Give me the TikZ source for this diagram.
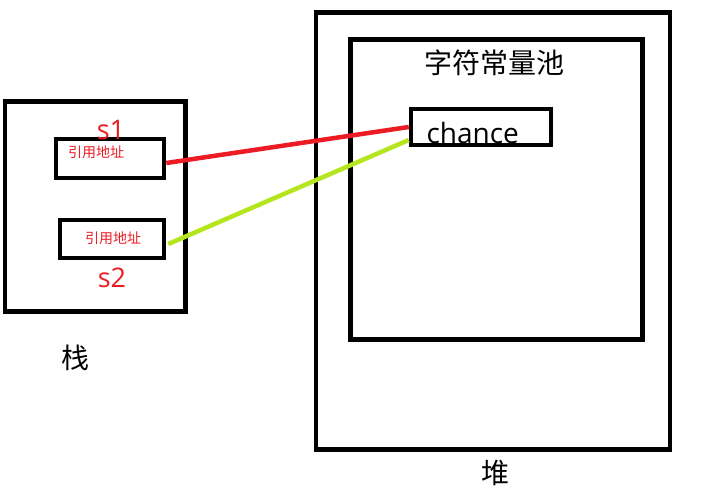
\documentclass[tikz,border=0pt]{standalone}
\usepackage{fontspec}
\setmainfont{Open Sans}
\newfontfamily\cjk{Noto Sans CJK SC}
\definecolor{paintred}{RGB}{237,28,36}
\definecolor{paintlime}{RGB}{181,230,29}
\begin{document}
\begin{tikzpicture}[x=1pt,y=-1pt]
\tikzstyle{box}=[draw, line width=4.5pt, inner sep=0pt]
\tikzstyle{ref}=[text=paintred, font=\cjk\fontsize{14}{16}\selectfont]
\tikzstyle{var}=[text=paintred, font=\fontsize{27}{30}\selectfont]
\tikzstyle{big}=[font=\cjk\fontsize{28}{32}\selectfont]
\useasboundingbox (0,0) rectangle (703,499);
\node[box, minimum width=180.5, minimum height=210] (stack) at (95.25,206.5) {};
\node[box, minimum width=108, minimum height=39] (s1box) at (110,158.5) {};
\node[box, minimum width=104, minimum height=38] (s2box) at (112,239) {};
\node[box, minimum width=354, minimum height=437] (heap) at (493,231) {};
\node[box, minimum width=292, minimum height=300] (pool) at (496.5,189.5) {};
\node[box, minimum width=140, minimum height=36] (chance) at (481,127) {};
\node[ref] (s1addr) at (96,152) {引用地址};
\node[ref] (s2addr) at (113,238) {引用地址};
\node[var] (s1) at (111,130) {s1};
\node[var] (s2) at (112,278) {s2};
\node[anchor=base west, font=\fontsize{28}{30}\selectfont] (str) at (423,143) {chance};
\node[big] (poolname) at (494,63) {字符常量池};
\node[big] (stackname) at (75,358) {栈};
\node[big] (heapname) at (495,473) {堆};
\coordinate (r1) at ([yshift=-4.5]s1box.east);
\coordinate (g1) at ([xshift=2,yshift=-5]s2box.east);
\coordinate (g2) at ([yshift=-13]chance.west);
\draw[paintred, line width=4.5pt] (r1) -- (chance.west);
\draw[paintlime, line width=4.5pt] (g1) -- (g2);
\end{tikzpicture}
\end{document}
